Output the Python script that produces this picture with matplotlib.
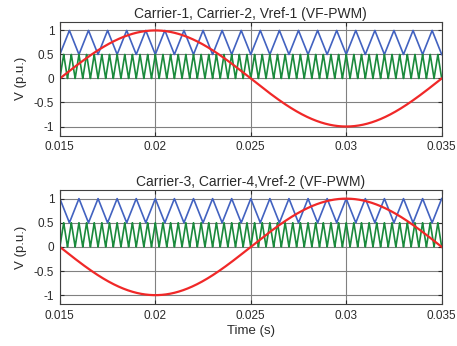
import numpy as np
import matplotlib.pyplot as plt

plt.rcParams['font.family'] = ['Liberation Sans', 'DejaVu Sans']

# --- values ---
t_start, t_end = 0.015, 0.035
f_ref = 50.0            # Hz, reference sine
f_c_upper = 1000.0      # Hz, upper carrier (0.5 .. 1)
f_c_lower = 2500.0      # Hz, lower carrier (0 .. 0.5)
upper_band = [0.5, 1.0]
lower_band = [0.0, 0.5]
ref_sign = [1, -1]      # Vref-1, Vref-2
upper_phase = [0.0, 0.5]  # fraction of a period (top starts at valley, bottom at peak)
titles = ['Carrier-1, Carrier-2, Vref-1 (VF-PWM)',
          'Carrier-3, Carrier-4,Vref-2 (VF-PWM)']
xticks = [0.015, 0.02, 0.025, 0.03, 0.035]
xticklabels = ['0.015', '0.02', '0.025', '0.03', '0.035']
yticks = [-1, -0.5, 0, 0.5, 1]
yticklabels = ['-1', '-0.5', '0', '0.5', '1']

t = np.linspace(t_start, t_end, 8001)


def tri(t, f, lo, hi, phase):
    # triangle wave: valley at phase 0, peak at half period
    p = ((t - t_start) * f + phase) % 1.0
    return lo + (hi - lo) * (1 - np.abs(1 - 2 * p))


fig = plt.figure(figsize=(4.57, 3.46), dpi=100)
positions = [[0.131, 0.608, 0.8355, 0.329], [0.131, 0.1205, 0.8355, 0.3305]]
txt = '#2a2a2a'

for i in range(2):
    ax = fig.add_axes(positions[i])
    ax.plot(t, tri(t, f_c_upper, upper_band[0], upper_band[1], upper_phase[i]),
            color='#4262c0', lw=1.2)
    ax.plot(t, tri(t, f_c_lower, lower_band[0], lower_band[1], 0.0),
            color='#1a8a3c', lw=1.2)
    ax.plot(t, ref_sign[i] * np.sin(2 * np.pi * f_ref * (t - t_start)),
            color='#f02828', lw=1.6)
    ax.set_xlim(t_start, t_end)
    ax.set_ylim(-1.19, 1.18)
    ax.set_xticks(xticks)
    ax.set_xticklabels(xticklabels)
    ax.set_yticks(yticks)
    ax.set_yticklabels(yticklabels)
    ax.grid(True, color='#808080', lw=0.8)
    ax.set_axisbelow(True)
    ax.tick_params(direction='in', top=True, right=True, labelsize=8.5,
                   colors=txt, length=3, pad=4)
    for s in ax.spines.values():
        s.set_color('#404040')
        s.set_linewidth(0.8)
    ax.set_title(titles[i], fontsize=10, color=txt, pad=3)
    ax.set_ylabel('V (p.u.)', fontsize=9.5, color=txt, labelpad=5)
    if i == 1:
        ax.set_xlabel('Time (s)', fontsize=9.5, color=txt, labelpad=2)

fig.savefig('out.png', dpi=100)
